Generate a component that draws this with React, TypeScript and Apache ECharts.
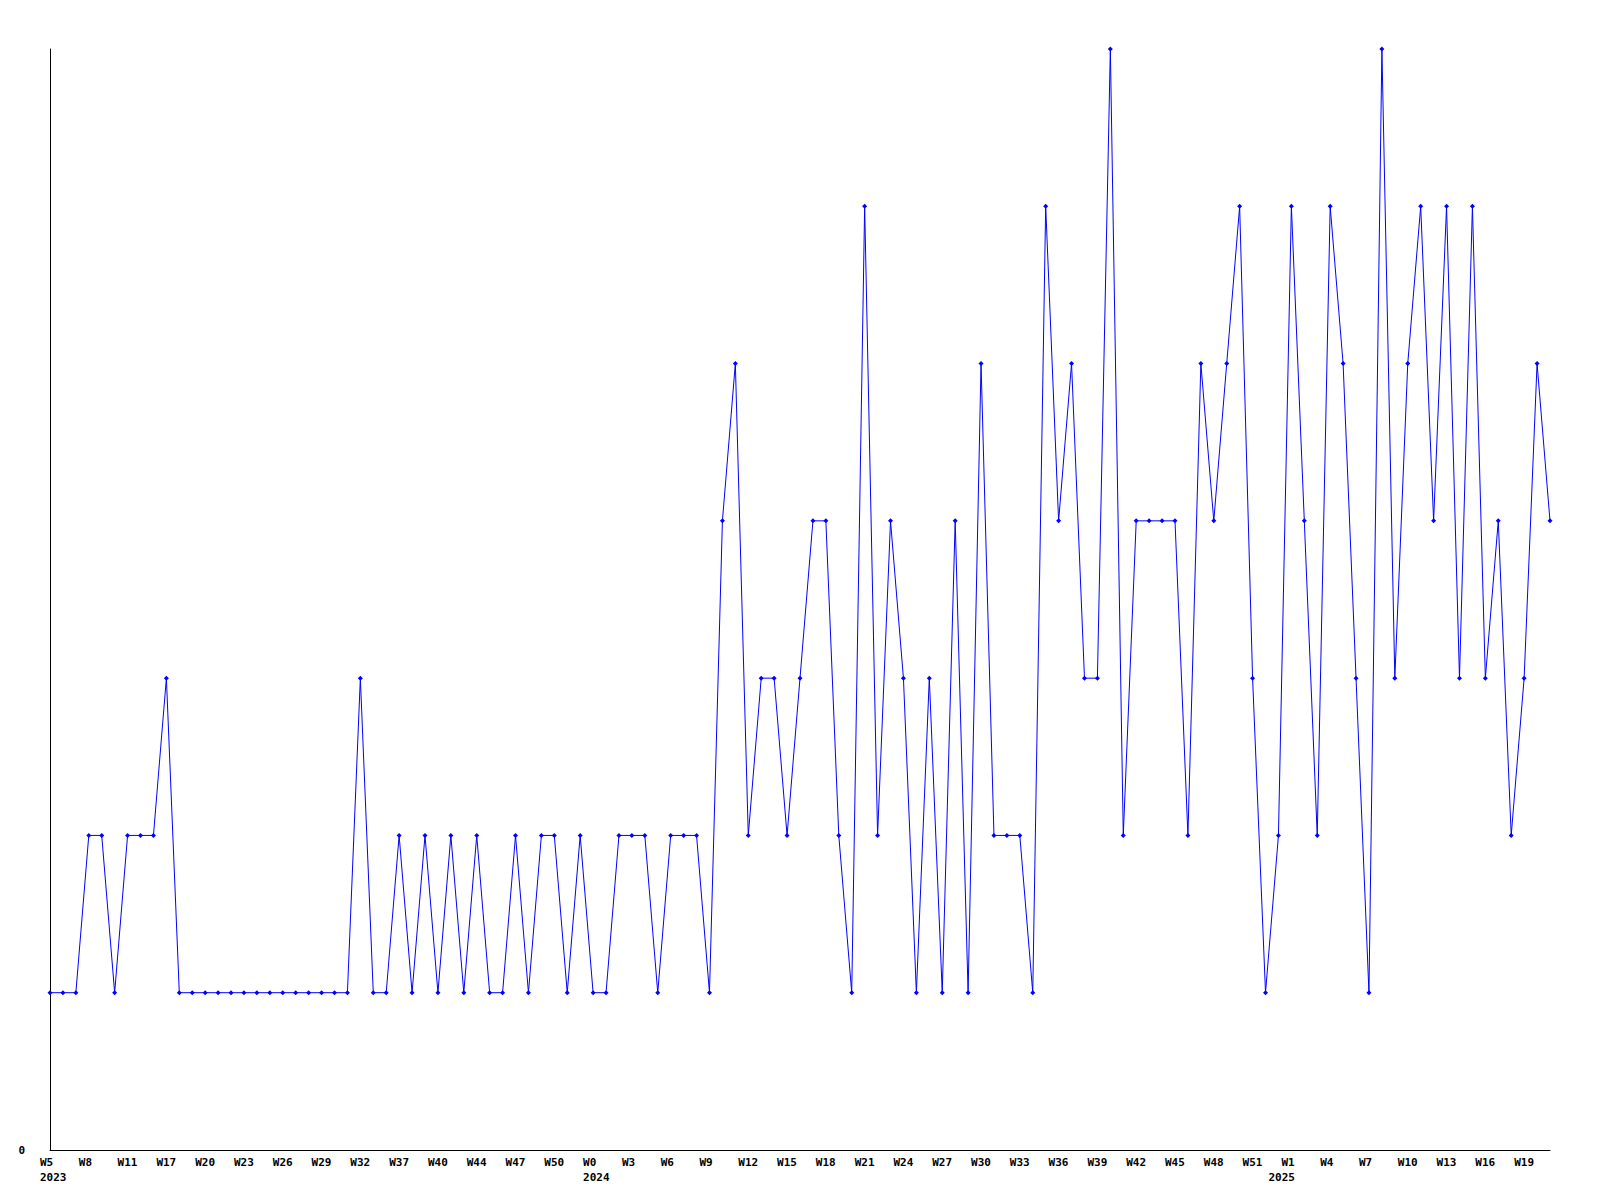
import React, { useEffect, useRef } from "react";
import * as echarts from "echarts";

const weeks2023 = ["W5","W6","W7","W8","W9","W10","W11","W13","W15","W17","W18","W19","W20","W21","W22","W23","W24","W25","W26","W27","W28","W29","W30","W31","W32","W34","W36","W37","W38","W39","W40","W41","W43","W44","W45","W46","W47","W48","W49","W50","W51","W52"];
const weeks2024 = ["W0","W1","W2","W3","W4","W5","W6","W7","W8","W9","W10","W11","W12","W13","W14","W15","W16","W17","W18","W19","W20","W21","W22","W23","W24","W25","W26","W27","W28","W29","W30","W31","W32","W33","W34","W35","W36","W37","W38","W39","W40","W41","W42","W43","W44","W45","W46","W47","W48","W49","W50","W51","W52"];
const weeks2025 = ["W0","W1","W2","W3","W4","W5","W6","W7","W8","W9","W10","W11","W12","W13","W14","W15","W16","W17","W18","W19","W20","W21"];

const values2023 = [1,1,1,2,2,1,2,2,2,3,1,1,1,1,1,1,1,1,1,1,1,1,1,1,3,1,1,2,1,2,1,2,1,2,1,1,2,1,2,2,1,2];
const values2024 = [1,1,2,2,2,1,2,2,2,1,4,5,2,3,3,2,3,4,4,2,1,6,2,4,3,1,3,1,4,1,5,2,2,2,1,6,4,5,3,3,7,2,4,4,4,4,2,5,4,5,6,3,1];
const values2025 = [2,6,4,2,6,5,3,1,7,3,5,6,4,6,3,6,3,4,2,3,5,4];

const yearNames = ["2023", "2024", "2025"];

export default function App() {
  const ref = useRef<HTMLDivElement>(null);
  useEffect(() => {
    if (!ref.current) return;
    const chart = echarts.init(ref.current, null, { renderer: "svg" });
    const weekGroups = [weeks2023, weeks2024, weeks2025];
    const categories: string[] = [];
    const years: string[] = [];
    weekGroups.forEach((g, gi) => {
      g.forEach((w) => {
        categories.push(w);
        years.push(yearNames[gi]);
      });
    });
    const isYearStart = (i: number) => i === 0 || years[i] !== years[i - 1];
    const data = [...values2023, ...values2024, ...values2025];
    const font = "DejaVu Sans Mono";
    const labelBase = {
      align: "left",
      padding: [0, 0, 0, -10],
      color: "#000000",
      fontFamily: font,
      fontWeight: "bold",
      fontSize: 11,
      lineHeight: 15,
    };
    chart.setOption({
      animation: false,
      backgroundColor: "#ffffff",
      grid: { left: 50, right: 50, top: 49, bottom: 50, containLabel: false },
      xAxis: [
        {
          type: "category",
          data: categories,
          boundaryGap: false,
          axisLine: { show: true, lineStyle: { color: "#000000", width: 1 } },
          axisTick: { show: false },
          splitLine: { show: false },
          axisLabel: { ...labelBase, interval: 2, margin: 5 },
        },
        {
          type: "category",
          data: categories,
          position: "bottom",
          boundaryGap: false,
          axisLine: { show: false },
          axisTick: { show: false },
          splitLine: { show: false },
          axisLabel: {
            ...labelBase,
            margin: 20,
            interval: (index: number) => isYearStart(index),
            formatter: (_v: string, index: number) => years[index],
          },
        },
      ],
      yAxis: {
        type: "value",
        min: 0,
        max: 7,
        interval: 7,
        axisLine: { show: true, lineStyle: { color: "#000000", width: 1 } },
        axisTick: { show: false },
        splitLine: { show: false },
        axisLabel: {
          margin: 25,
          color: "#000000",
          fontFamily: font,
          fontWeight: "bold",
          fontSize: 11,
          formatter: (v: number) => (v === 0 ? "0" : ""),
        },
      },
      series: [
        {
          type: "line",
          xAxisIndex: 0,
          data,
          symbol: "diamond",
          symbolSize: 5,
          showAllSymbol: true,
          lineStyle: { color: "#0000ff", width: 1 },
          itemStyle: { color: "#0000ff" },
          emphasis: { disabled: true },
        },
      ],
    });
    return () => chart.dispose();
  }, []);
  return (
    <div
      ref={ref}
      style={{ position: "fixed", left: 0, top: 0, width: 1600, height: 1200, background: "#fff" }}
    />
  );
}
